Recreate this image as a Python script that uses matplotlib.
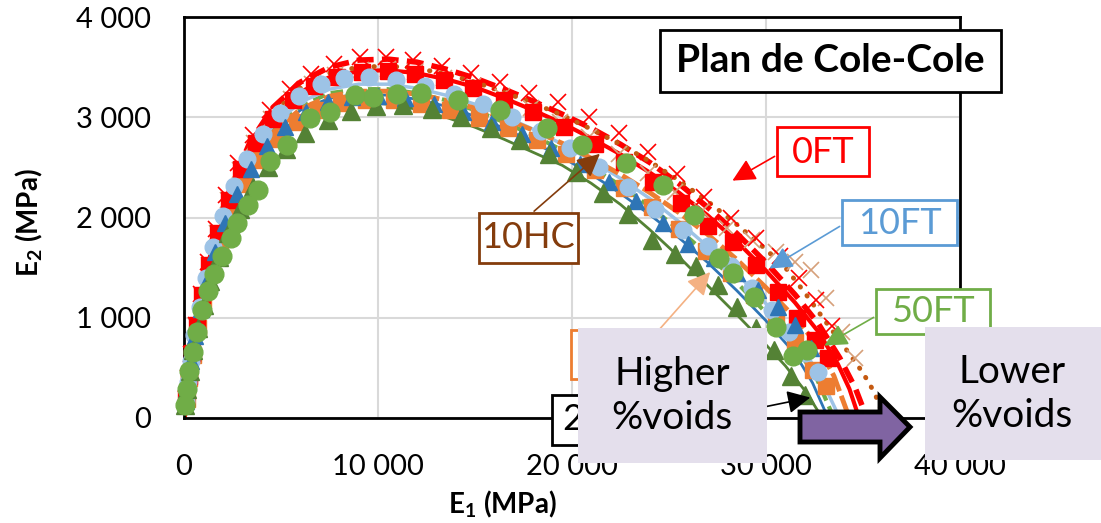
import matplotlib
matplotlib.use('Agg')
import matplotlib.pyplot as plt
import matplotlib.patches as mpatches

plt.rcParams['font.family'] = ['Lato', 'DejaVu Sans']
plt.rcParams['mathtext.fontset'] = 'custom'
plt.rcParams['mathtext.rm'] = 'Lato'
plt.rcParams['mathtext.bf'] = 'Lato:bold'

# ---- measured points (E1, E2 in MPa) ----
red_sq_e1 = [120, 260, 420, 650, 950, 1300, 1750, 2300, 2950, 3700, 4600, 5600, 6700, 7900, 9200, 10500, 11900,
             13400, 14900, 16500, 18000, 19600, 21200, 22700, 24200, 25600, 27000, 28300, 29500, 30600, 31600,
             32500, 33200]
red_sq_e2 = [200, 420, 650, 930, 1230, 1530, 1850, 2170, 2480, 2740, 2980, 3170, 3310, 3400, 3450, 3460, 3430,
             3370, 3290, 3170, 3050, 2900, 2730, 2550, 2350, 2140, 1920, 1760, 1530, 1260, 1000, 780, 600]

red_x_e1 = [100, 230, 380, 600, 880, 1220, 1650, 2180, 2800, 3550, 4450, 5450, 6550, 7750, 9050, 10400, 11800,
            13300, 14800, 16300, 17800, 19300, 20900, 22400, 23900, 25400, 26800, 28200, 29500, 30700, 31700,
            32600, 33400]
red_x_e2 = [190, 400, 640, 930, 1240, 1560, 1890, 2220, 2540, 2820, 3070, 3280, 3430, 3530, 3600, 3600, 3570,
            3510, 3440, 3350, 3240, 3150, 3000, 2840, 2650, 2430, 2200, 2000, 1800, 1620, 1400, 1180, 920]

tan_x_e1 = [110, 250, 400, 630, 920, 1280, 1720, 2250, 2880, 3620, 4500, 5500, 6600, 7800, 9100, 10500, 11900,
            13400, 14900, 16400, 17900, 19400, 20900, 22400, 23900, 25300, 26700, 28000, 29300, 30500, 31500,
            32300, 33100, 33900, 34600]
tan_x_e2 = [200, 410, 640, 920, 1220, 1530, 1850, 2170, 2470, 2740, 2980, 3180, 3330, 3420, 3470, 3480, 3450,
            3390, 3310, 3210, 3090, 2950, 2800, 2630, 2440, 2250, 2060, 1900, 1780, 1660, 1560, 1480, 1200, 860,
            600]

orange_e1 = [130, 280, 450, 700, 1000, 1380, 1850, 2420, 3100, 3900, 4800, 5800, 6900, 8100, 9400, 10800, 12200,
             13700, 15200, 16700, 18200, 19700, 21200, 22700, 24100, 25500, 26900, 28200, 29400, 30500, 31500,
             32400, 33100]
orange_e2 = [190, 400, 630, 900, 1180, 1470, 1760, 2050, 2330, 2570, 2780, 2950, 3070, 3140, 3170, 3170, 3130,
             3070, 2990, 2890, 2770, 2630, 2470, 2290, 2100, 1890, 1670, 1450, 1230, 1000, 760, 480, 320]

ltblue_e1 = [90, 200, 340, 540, 800, 1120, 1520, 2000, 2580, 3260, 4050, 4950, 5950, 7050, 8250, 9550, 10950,
             12400, 13900, 15400, 16900, 18400, 19900, 21400, 22900, 24300, 25700, 27000, 28200, 29300, 30300,
             31200, 32000, 32700]
ltblue_e2 = [170, 360, 570, 830, 1110, 1400, 1710, 2010, 2310, 2580, 2830, 3040, 3210, 3330, 3390, 3400, 3370,
             3310, 3230, 3130, 3000, 2860, 2690, 2500, 2300, 2080, 1880, 1720, 1520, 1300, 1080, 860, 650, 460]

blue_e1 = [100, 220, 370, 580, 860, 1200, 1620, 2130, 2740, 3450, 4280, 5220, 6270, 7420, 8670, 10000, 11400,
           12900, 14400, 15900, 17400, 18900, 20400, 21900, 23300, 24700, 26000, 27300, 28500, 29600, 30600,
           31500, 32300]
blue_e2 = [170, 360, 570, 820, 1090, 1370, 1660, 1950, 2230, 2480, 2710, 2900, 3050, 3150, 3200, 3210, 3190,
           3130, 3050, 2950, 2830, 2690, 2530, 2350, 2160, 1950, 1740, 1600, 1450, 1280, 1110, 930, 700]

dkgreen_e1 = [70, 170, 300, 480, 720, 1010, 1360, 1780, 2280, 2870, 3560, 4350, 5250, 6250, 7400, 8600, 9900,
              11300, 12800, 14300, 15800, 17300, 18800, 20200, 21600, 22900, 24100, 25300, 26400, 27500, 28500,
              29500, 30400, 31300, 32000]
dkgreen_e2 = [130, 290, 470, 680, 900, 1130, 1370, 1610, 1850, 2080, 2300, 2500, 2680, 2840, 2970, 3060, 3110,
              3120, 3080, 3000, 2890, 2770, 2630, 2450, 2240, 2030, 1780, 1640, 1520, 1330, 1110, 900, 680, 420,
              230]

green_e1 = [60, 150, 280, 450, 670, 950, 1250, 1550, 1950, 2400, 2750, 3300, 3800, 4450, 5300, 6500, 7500, 8800,
            9750, 11000, 12200, 14100, 16300, 18700, 20500, 22800, 24700, 26300, 27600, 28300, 29400, 30500,
            31400, 32100]
green_e2 = [130, 290, 470, 660, 860, 1080, 1270, 1440, 1620, 1800, 1950, 2120, 2270, 2560, 2720, 2990, 3050,
            3220, 3200, 3230, 3240, 3170, 3070, 2890, 2720, 2540, 2320, 2020, 1600, 1450, 1210, 910, 620, 680]

# ---- model curves ----
grid = [0, 200, 500, 1000, 1600, 2400, 3400, 4600, 6000, 7500, 9000, 10500, 12000, 13500, 15000, 16500, 18000,
        19500, 21000, 22500, 24000, 25500, 27000, 28500, 30000]

red_dash_e1 = grid + [31500, 32700, 33800, 34600, 35200]
red_dash_e2 = [0, 350, 800, 1300, 1800, 2300, 2750, 3100, 3350, 3500, 3570, 3580, 3550, 3480, 3390, 3280, 3160,
               3030, 2890, 2730, 2550, 2340, 2100, 1840, 1550, 1230, 940, 600, 300, 0]
red_line_e1 = grid + [31500, 32700, 33700, 34300, 34800]
red_line_e2 = [0, 330, 760, 1240, 1730, 2220, 2650, 3000, 3250, 3400, 3460, 3470, 3440, 3380, 3300, 3190, 3070,
               2940, 2790, 2630, 2450, 2250, 2020, 1760, 1470, 1150, 860, 540, 290, 0]
orange_fit_e1 = grid + [31500, 32600, 33500, 34300]
orange_fit_e2 = [0, 300, 700, 1160, 1630, 2100, 2520, 2850, 3080, 3210, 3260, 3260, 3230, 3170, 3090, 2990, 2870,
                 2740, 2590, 2430, 2250, 2050, 1830, 1580, 1300, 1000, 740, 420, 0]
brown_fit_e1 = grid + [31000, 32000, 33000, 34000, 35000, 35600, 36100]
brown_fit_e2 = [0, 340, 780, 1270, 1770, 2260, 2700, 3040, 3290, 3440, 3500, 3510, 3490, 3430, 3350, 3250, 3140,
                3020, 2880, 2730, 2560, 2370, 2160, 1930, 1680, 1500, 1250, 980, 720, 450, 250, 0]
ltblue_fit_e1 = grid + [31500, 32700, 33800]
ltblue_fit_e2 = [0, 320, 740, 1210, 1690, 2170, 2590, 2920, 3150, 3280, 3330, 3330, 3290, 3220, 3130, 3010, 2880,
                 2730, 2570, 2390, 2190, 1960, 1710, 1440, 1140, 800, 450, 0]
blue_fit_e1 = grid + [31500, 32400, 33200]
blue_fit_e2 = [0, 310, 720, 1180, 1650, 2120, 2530, 2850, 3070, 3190, 3230, 3220, 3180, 3110, 3010, 2890, 2750,
               2600, 2430, 2240, 2030, 1800, 1550, 1270, 970, 640, 350, 0]
green_fit_e1 = grid + [31500, 32600, 33500]
green_fit_e2 = [0, 315, 730, 1200, 1670, 2150, 2560, 2890, 3110, 3240, 3280, 3280, 3240, 3170, 3070, 2950, 2820,
                2670, 2500, 2320, 2110, 1880, 1630, 1350, 1050, 720, 400, 0]
dkgreen_fit_e1 = grid + [31000, 32100, 32900]
dkgreen_fit_e2 = [0, 300, 700, 1160, 1620, 2080, 2480, 2790, 3010, 3120, 3150, 3130, 3080, 3000, 2900, 2780, 2650,
                  2520, 2340, 2130, 1880, 1610, 1320, 1030, 730, 520, 250, 0]

x_ticks = [0, 10000, 20000, 30000, 40000]
y_ticks = [0, 1000, 2000, 3000, 4000]

RED = '#FF0000'
ORANGE = '#ED7D31'
BROWN = '#C55A11'
TAN = '#D6A07A'
LTBLUE = '#9DC3E6'
BLUE = '#2E75B6'
GREEN = '#70AD47'
DKGREEN = '#548235'

W, H = 1101, 523
fig = plt.figure(figsize=(W / 100, H / 100), dpi=100)
ax = fig.add_axes([184 / W, 1 - 418 / H, 776 / W, 401 / H])

# model lines
ax.plot(dkgreen_fit_e1, dkgreen_fit_e2, color=DKGREEN, lw=2, zorder=2)
ax.plot(blue_fit_e1, blue_fit_e2, color=BLUE, lw=2, zorder=2)
ax.plot(green_fit_e1, green_fit_e2, color=GREEN, lw=3, ls=(0, (3, 1.5)), zorder=2)
ax.plot(ltblue_fit_e1, ltblue_fit_e2, color=LTBLUE, lw=2.5, zorder=2)
ax.plot(orange_fit_e1, orange_fit_e2, color=ORANGE, lw=3.5, ls=(0, (4, 1)), zorder=2)
ax.plot(red_line_e1, red_line_e2, color=RED, lw=3, zorder=2)
ax.plot(red_dash_e1, red_dash_e2, color=RED, lw=4, ls=(0, (3, 1.5)), zorder=2)
ax.plot(brown_fit_e1, brown_fit_e2, color=BROWN, lw=3.5, ls=(0, (0.1, 2.2)),
        dash_capstyle='round', zorder=2)

# measured points
mk = dict(ls='none', clip_on=False, zorder=3)
ax.plot(tan_x_e1, tan_x_e2, marker='x', ms=12, mew=1.2, color=TAN, **mk)
ax.plot(red_x_e1, red_x_e2, marker='x', ms=12, mew=1.2, color=RED, **mk)
ax.plot(orange_e1, orange_e2, marker='s', ms=11, color=ORANGE, **mk)
ax.plot(red_sq_e1, red_sq_e2, marker='s', ms=11, color=RED, **mk)
ax.plot(ltblue_e1, ltblue_e2, marker='o', ms=12, color=LTBLUE, **mk)
ax.plot(blue_e1, blue_e2, marker='^', ms=12, color=BLUE, **mk)
ax.plot(dkgreen_e1, dkgreen_e2, marker='^', ms=13, color=DKGREEN, **mk)
ax.plot(green_e1, green_e2, marker='o', ms=13.5, color=GREEN, **mk)

ax.set_xlim(0, 40000)
ax.set_ylim(0, 4000)
ax.set_xticks(x_ticks)
ax.set_yticks(y_ticks)
ax.set_xticklabels([f'{v:,}'.replace(',', ' ') for v in x_ticks])
ax.set_yticklabels([f'{v:,}'.replace(',', ' ') for v in y_ticks])
ax.tick_params(axis='both', length=0, labelsize=21)
ax.tick_params(axis='y', pad=24)
ax.tick_params(axis='x', pad=26)
ax.grid(True, color='#D9D9D9', lw=1.5)
ax.set_axisbelow(True)
for s in ax.spines.values():
    s.set_linewidth(2)
    s.set_color('black')

ax.set_xlabel(r'E$_{\mathbf{1}}$ (MPa)', fontsize=20, fontweight='bold')
ax.set_ylabel(r'E$_{\mathbf{2}}$ (MPa)', fontsize=20, fontweight='bold')
ax.xaxis.set_label_coords((502 - 184) / 776, (418 - 488) / 401)
ax.yaxis.set_label_coords((45 - 184) / 776, (418 - 223) / 401)


def fx(px):
    return px / W


def fy(py):
    return 1 - py / H


def box(x0, y0, x1, y1, color, fc='white', lw=2, z=5):
    r = mpatches.Rectangle((fx(x0), fy(y1)), (x1 - x0) / W, (y1 - y0) / H, transform=fig.transFigure,
                           fc=fc, ec=color, lw=lw, zorder=z)
    fig.add_artist(r)


def arrow(start, tip, color):
    a = mpatches.FancyArrowPatch((fx(start[0]), fy(start[1])), (fx(tip[0]), fy(tip[1])),
                                 transform=fig.transFigure, arrowstyle='-|>,head_length=0.7,head_width=0.35',
                                 mutation_scale=20, color=color, lw=1.2, zorder=4)
    fig.add_artist(a)


# callouts
arrow((777, 155), (730, 182), RED)
arrow((842, 225), (767, 270), '#5B9BD5')
arrow((876, 316), (822, 347), GREEN)
arrow((532, 213), (602, 152), '#843C0C')
arrow((650, 340), (712, 270), '#F4B183')
arrow((700, 420), (813, 397), 'black')

box(777, 127, 869, 176, RED)
fig.text(fx(823), fy(152), '0FT', color=RED, fontsize=26, ha='center', va='center', zorder=6)
box(842, 200, 957, 245, '#5B9BD5')
fig.text(fx(900), fy(223), '10FT', color='#5B9BD5', fontsize=26, ha='center', va='center', zorder=6)
box(876, 289, 990, 334, GREEN)
fig.text(fx(933), fy(312), '50FT', color=GREEN, fontsize=26, ha='center', va='center', zorder=6)
box(479, 213, 578, 263, '#843C0C')
fig.text(fx(528), fy(238), '10HC', color='#843C0C', fontsize=26, ha='center', va='center', zorder=6)
# these two callouts sit mostly under the "Higher %voids" box; only their first digit shows
box(571, 330, 686, 379, ORANGE)
fig.text(fx(576), fy(355), '1', color=ORANGE, fontsize=26, ha='left', va='center', zorder=6)
box(552, 395, 667, 445, 'black')
fig.text(fx(562), fy(420), '2', color='black', fontsize=26, ha='left', va='center', zorder=6)

# title
box(660, 30, 1001, 92, 'black')
fig.text(fx(830), fy(61), 'Plan de Cole-Cole', fontsize=28, fontweight='bold', ha='center', va='center',
         zorder=6)

# voids boxes and arrow
box(578, 328, 767, 463, 'none', fc='#E4DFEC', lw=0, z=8)
fig.text(fx(672), fy(396), 'Higher\n%voids', fontsize=28, ha='center', va='center', linespacing=1.3, zorder=9)
box(925, 327, 1101, 460, 'none', fc='#E4DFEC', lw=0, z=8)
fig.text(fx(1012), fy(394), 'Lower\n%voids', fontsize=28, ha='center', va='center', linespacing=1.3, zorder=9)

pts = [(800, 412), (880, 412), (880, 397), (910, 427), (880, 458), (880, 442), (800, 442)]
fig.add_artist(mpatches.Polygon([(fx(x), fy(y)) for x, y in pts], closed=True, transform=fig.transFigure,
                                fc='#8064A2', ec='black', lw=3.5, joinstyle='miter', zorder=8))

fig.savefig('out.png', dpi=100)
